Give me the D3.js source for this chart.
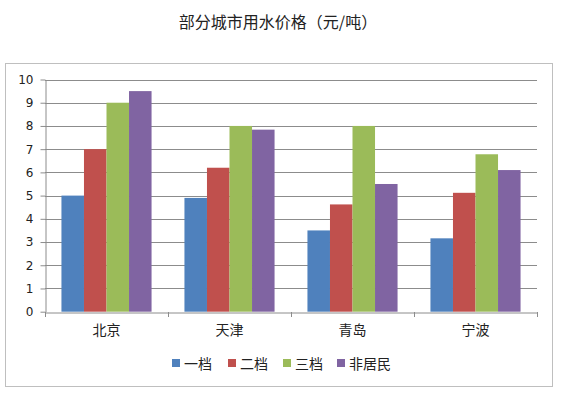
<!DOCTYPE html>
<html><head><meta charset="utf-8">
<script src="https://cdn.jsdelivr.net/npm/d3@7"></script>
<style>body{margin:0;background:#fff}svg{display:block}</style>
</head><body><svg id="c" width="564" height="399"></svg>
<script>
const categories = ["北京","天津","青岛","宁波"];
const seriesNames = ["一档","二档","三档","非居民"];
const s1 = [5, 4.9, 3.5, 3.16];
const s2 = [7, 6.2, 4.62, 5.12];
const s3 = [9, 8, 8, 6.78];
const s4 = [9.5, 7.84, 5.5, 6.1];
const yTicks = [0,1,2,3,4,5,6,7,8,9,10];
const colors = ["#4F81BD","#C0504D","#9BBB59","#8064A2"];
const series = [s1,s2,s3,s4];

const svg = d3.select("#c");
const font = "'Noto Sans CJK SC', sans-serif";
const L = 45, R = 537, T = 79.5, B = 311.7;

svg.append("rect").attr("x",5.5).attr("y",63.5).attr("width",547).attr("height",323)
  .attr("fill","#fff").attr("stroke","#BFBFBF").attr("stroke-width",1);

svg.append("text").attr("x",278).attr("y",28).attr("text-anchor","middle")
  .attr("font-family",font).attr("font-size",16).attr("fill","#222").text("部分城市用水价格（元/吨）");

const x0 = d3.scaleBand().domain(categories).range([L,R]).paddingInner(0).paddingOuter(0);
const x1 = d3.scaleBand().domain(seriesNames).range([0,x0.bandwidth()]).paddingInner(0).paddingOuter(0.73);
const y = d3.scaleLinear().domain([0,10]).range([B,T]);

// grid
svg.append("g").selectAll("line").data(yTicks.filter(d=>d>0)).join("line")
  .attr("x1",L).attr("x2",R).attr("y1",d=>Math.round(y(d))+0.5).attr("y2",d=>Math.round(y(d))+0.5)
  .attr("stroke","#8C8C8C").attr("stroke-width",1);

// bars
const g = svg.append("g");
categories.forEach((c,ci)=>{
  series.forEach((s,si)=>{
    g.append("rect").attr("x",x0(c)+x1(seriesNames[si])).attr("width",x1.bandwidth())
      .attr("y",y(s[ci])).attr("height",B-y(s[ci])).attr("fill",colors[si]);
  });
});

// y axis
const ya = svg.append("g").attr("transform",`translate(${L+0.5},0)`)
  .call(d3.axisLeft(y).tickValues(yTicks).tickSize(5).tickPadding(7).tickSizeOuter(0));
ya.select(".domain").attr("stroke","#8C8C8C");
ya.selectAll(".tick line").attr("stroke","#8C8C8C");
ya.selectAll("text").attr("font-family","'DejaVu Sans', sans-serif").attr("font-size",12).attr("fill","#222");

// x axis
const xa = svg.append("g").attr("transform",`translate(0,${Math.round(B)+0.5})`)
  .call(d3.axisBottom(x0).tickSize(0).tickPadding(13));
xa.select(".domain").attr("stroke","#8C8C8C");
xa.selectAll("text").attr("font-family",font).attr("font-size",14).attr("fill","#222");
const bounds = [L,R].concat(categories.slice(1).map(c=>x0(c)));
svg.append("g").selectAll("line").data(bounds).join("line")
  .attr("x1",d=>Math.round(d)+0.5).attr("x2",d=>Math.round(d)+0.5)
  .attr("y1",Math.round(B)).attr("y2",Math.round(B)+5).attr("stroke","#8C8C8C");

// legend
const lx = [172,228,283,337];
const lg = svg.append("g");
seriesNames.forEach((n,i)=>{
  lg.append("rect").attr("x",lx[i]).attr("y",359).attr("width",8).attr("height",8).attr("fill",colors[i]);
  lg.append("text").attr("x",lx[i]+12).attr("y",369).attr("font-family",font).attr("font-size",14)
    .attr("fill","#222").text(n);
});
</script></body></html>
